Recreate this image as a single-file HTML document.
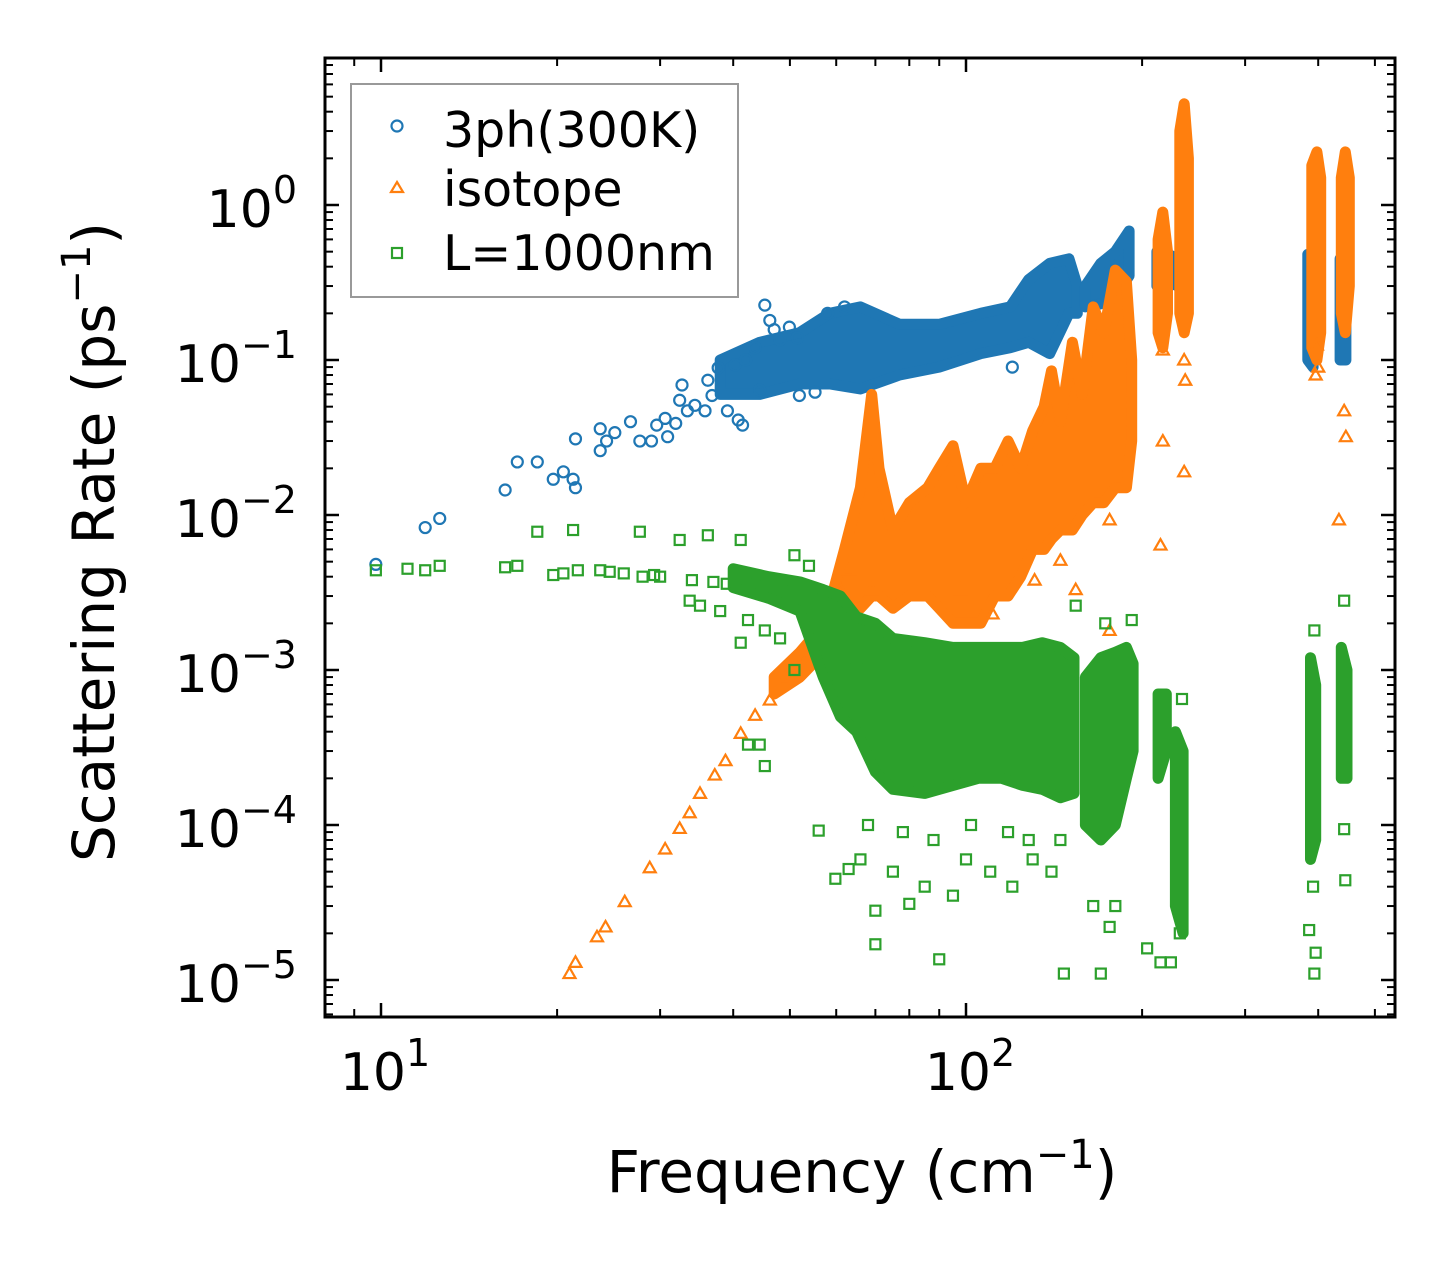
<!DOCTYPE html>
<html><head><meta charset="utf-8">
<style>
html,body{margin:0;padding:0;background:#fff;}
svg{display:block;font-family:"DejaVu Sans","Liberation Sans",sans-serif;}
</style></head>
<body>
<svg id="chart" width="1455" height="1265" viewBox="0 0 1455 1265" xmlns="http://www.w3.org/2000/svg">
<rect x="0" y="0" width="1455" height="1265" fill="#fff"/>
<defs><clipPath id="plotclip"><rect x="325" y="58" width="1070" height="959"/></clipPath></defs>
<g id="plot" clip-path="url(#plotclip)"></g>
<g id="axes"></g>
<g id="legend">
  <rect x="351" y="84" width="387" height="213" fill="#fff" fill-opacity="0.8" stroke="#999" stroke-width="2"/>
  <circle cx="397" cy="126" r="5.5" fill="none" stroke="#1f77b4" stroke-width="2.2"/>
  <text x="443" y="147" font-size="49">3ph(300K)</text>
  <polygon points="397,182 403,192 391,192" fill="none" stroke="#ff7f0e" stroke-width="2.2"/>
  <text x="443" y="206" font-size="49">isotope</text>
  <rect x="392" y="248" width="10" height="10" fill="none" stroke="#2ca02c" stroke-width="2.2"/>
  <text x="443" y="270" font-size="49">L=1000nm</text>
</g>
<text x="862" y="1192" font-size="58" text-anchor="middle">Frequency (cm<tspan font-size="40" dy="-24">−1</tspan><tspan dy="24">)</tspan></text>
<text transform="translate(114,542) rotate(-90)" font-size="58" text-anchor="middle">Scattering Rate (ps<tspan font-size="40" dy="-24">−1</tspan><tspan dy="24">)</tspan></text>
</svg>
<script>
// ---- data ----
const xTickValues = [10, 100];
const xTickLabels = ["1", "2"];
const yTickValues = [1, 0.1, 0.01, 0.001, 0.0001, 0.00001];
const yTickLabels = ["0", "−1", "−2", "−3", "−4", "−5"];

const phononPoints = [[9.8,0.0048],[11.9,0.0083],[12.6,0.0095],[16.3,0.0145],[17.1,0.022],[18.5,0.022],[19.7,0.017],[20.5,0.019],[21.3,0.017],[21.5,0.015],[21.5,0.031],[23.7,0.036],[23.7,0.026],[24.3,0.030],[25.1,0.034],[26.7,0.040],[27.7,0.030],[29.0,0.030],[29.6,0.038],[30.6,0.042],[30.9,0.032],[31.9,0.039],[32.7,0.069],[32.4,0.055],[33.4,0.047],[34.4,0.051],[35.8,0.047],[36.2,0.074],[36.8,0.059],[37.7,0.089],[39.1,0.047],[40.8,0.041],[41.5,0.038],[40.3,0.093],[42.0,0.10],[43.6,0.12],[45.3,0.226],[46.2,0.18],[47.0,0.157],[48.1,0.135],[49.9,0.163],[51.5,0.139],[44.4,0.064],[51.9,0.059],[55.2,0.062],[58,0.2],[62,0.22],[150,0.08],[140,0.075],[120,0.09]];
const phononBands = [
 [[38,0.06,0.1],[44.4,0.06,0.13],[51.9,0.07,0.15],[58.5,0.07,0.2],[66,0.065,0.22],[77,0.08,0.17],[90,0.09,0.17],[106,0.11,0.2],[119,0.12,0.22],[128,0.13,0.33],[139,0.11,0.42],[150,0.2,0.45],[155,0.2,0.3]],
 [[160,0.22,0.3],[170,0.23,0.42],[180,0.26,0.5],[190,0.35,0.68]],
 [[212,0.3,0.5],[222,0.32,0.48],[230,0.3,0.45]],
 [[384,0.1,0.48],[392,0.09,0.4]],
 [[436,0.1,0.45],[446,0.1,0.4]]
];

const isotopePoints = [[21.0,1.1e-5],[21.5,1.3e-5],[23.4,1.9e-5],[24.2,2.2e-5],[26.1,3.2e-5],[28.8,5.3e-5],[30.6,7e-5],[32.4,9.5e-5],[33.7,1.2e-4],[35.1,1.6e-4],[37.2,2.1e-4],[38.8,2.6e-4],[41.2,3.9e-4],[43.6,5.1e-4],[46.2,6.4e-4],[49.0,8.7e-4],[51.9,1.1e-3],[53.9,1.25e-3],[56,1.6e-3],[58.5,2.1e-3],[61,3.3e-3],[63,4.4e-3],[64,2.4e-3],[69,3.3e-3],[217,0.116],[217,0.030],[215,0.0064],[236,0.10],[236,0.019],[237,0.074],[176,0.0018],[176,0.0093],[154,0.0033],[131,0.0038],[145,0.0051],[434,0.0093],[443,0.047],[446,0.032],[398,0.125],[111,0.0023],[97.8,0.0033],[63,0.0029],[400,0.09],[396,0.08]];
const isotopeBands = [
 [[47,0.0007,0.0009],[52,0.0009,0.0013],[56,0.0012,0.0018],[59,0.0018,0.003],[62,0.0025,0.006],[66,0.0025,0.015],[69,0.003,0.06],[71,0.003,0.02],[75,0.0025,0.008],[80,0.003,0.012],[86,0.003,0.015],[90,0.0025,0.02],[95,0.002,0.028],[100,0.002,0.012],[106,0.002,0.02],[112,0.003,0.02],[118,0.003,0.03],[124,0.004,0.02],[130,0.006,0.035],[136,0.006,0.05],[140,0.007,0.085],[145,0.008,0.04],[152,0.008,0.13],[158,0.01,0.06],[165,0.012,0.22],[172,0.012,0.15],[180,0.015,0.38],[188,0.015,0.32],[192,0.03,0.1]],
 [[213,0.15,0.6],[217,0.12,0.9],[221,0.2,0.5]],
 [[232,0.2,3],[236,0.15,4.5],[240,0.2,2]],
 [[390,0.12,1.8],[398,0.1,2.2],[404,0.15,1.5]],
 [[438,0.2,1.5],[445,0.15,2.2],[452,0.3,1.5]]
];

const boundaryPoints = [[9.8,0.0044],[11.1,0.0045],[11.9,0.0044],[12.6,0.0047],[16.3,0.0046],[17.1,0.0047],[18.5,0.0078],[19.7,0.0041],[20.5,0.0042],[21.3,0.0080],[21.7,0.0044],[23.7,0.0044],[24.6,0.0043],[27.7,0.0078],[29.3,0.0041],[32.4,0.0069],[36.2,0.0074],[41.2,0.0069],[33.7,0.0028],[35.1,0.0026],[38,0.0024],[41.2,0.0015],[45.3,0.0018],[48.1,0.0016],[50.9,0.0010],[42.4,0.00033],[44.4,0.00033],[45.3,0.00024],[42.4,0.0021],[50.9,0.0055],[53.9,0.0047],[56,0.000092],[59.8,0.000045],[63,0.000052],[70,0.000028],[70,0.000017],[80,0.000031],[90,0.0000136],[147,0.000011],[170,0.000011],[176,0.000022],[204,0.000016],[215,0.000013],[224,0.000013],[386,0.000021],[394,0.000011],[445,0.000044],[443,0.0028],[394,0.0018],[443,0.000094],[234,0.00065],[154,0.0026],[173,0.0020],[192,0.0021],[30,0.004],[34,0.0038],[37,0.0037],[39,0.0036],[26,0.0042],[28,0.004],[66,0.00006],[75,0.00005],[85,0.00004],[100,0.00006],[110,0.00005],[120,0.00004],[130,0.00006],[95,0.000035],[140,0.00005],[165,0.00003],[180,0.00003],[230,0.00003],[232,0.00002],[392,0.00004],[396,0.000015],[60,0.0009],[65,0.0012],[68,0.0001],[78,0.00009],[88,0.00008],[102,0.0001],[118,0.00009],[128,0.00008],[145,0.00008]];
const boundaryBands = [
 [[40,0.0034,0.0045],[46,0.0029,0.004],[52,0.0024,0.0037],[57,0.0009,0.0033],[61,0.0005,0.003],[65,0.0004,0.0022],[70,0.00022,0.002],[75,0.00017,0.0016],[85,0.00016,0.0015],[95,0.00018,0.0014],[105,0.0002,0.0014],[115,0.0002,0.0014],[125,0.00018,0.0014],[135,0.00017,0.0015],[145,0.00015,0.0014],[153,0.00016,0.0012]],
 [[160,0.0001,0.0009],[170,0.00008,0.0012],[180,0.0001,0.0013],[188,0.0002,0.0014],[193,0.0003,0.0011]],
 [[213,0.0002,0.0007],[220,0.0003,0.0007]],
 [[228,0.00003,0.0004],[235,0.00002,0.0003]],
 [[388,0.00006,0.0012],[396,0.00008,0.0008]],
 [[438,0.0002,0.0014],[448,0.0002,0.001]]
];

// ---- scales ----
const X0 = 381, XDEC = 585, Y0 = 205, YDEC = 155;
function xs(v){ return X0 + (Math.log10(v) - 1) * XDEC; }
function ys(v){ return Y0 - Math.log10(v) * YDEC; }
const NS = "http://www.w3.org/2000/svg";
const plot = document.getElementById('plot');
const axes = document.getElementById('axes');
function mk(tag, attrs, parent){ const e = document.createElementNS(NS, tag); for (const k in attrs) e.setAttribute(k, attrs[k]); parent.appendChild(e); return e; }

function drawBands(bands, color, name){
  bands.forEach(function(b){
    const top = b.map(function(p){ return xs(p[0]).toFixed(1)+','+ys(p[2]).toFixed(1); });
    const bot = b.slice().reverse().map(function(p){ return xs(p[0]).toFixed(1)+','+ys(p[1]).toFixed(1); });
    const poly = mk('polygon', {points: top.concat(bot).join(' '), fill: color, stroke: color, 'stroke-width': 11, 'stroke-linejoin': 'round'}, plot);
    
    
  });
}
function drawCircles(pts, color){
  pts.forEach(function(p){
    const c = mk('circle', {cx: xs(p[0]), cy: ys(p[1]), r: 5.5, fill: 'none', stroke: color, 'stroke-width': 2.2}, plot);
    
    
  });
}
function drawTriangles(pts, color){
  pts.forEach(function(p){
    const x = xs(p[0]), y = ys(p[1]);
    const t = mk('polygon', {points: x+','+(y-6)+' '+(x+6)+','+(y+4.5)+' '+(x-6)+','+(y+4.5), fill: 'none', stroke: color, 'stroke-width': 2.2}, plot);
    
    
  });
}
function drawSquares(pts, color){
  pts.forEach(function(p){
    const s = mk('rect', {x: xs(p[0])-5, y: ys(p[1])-5, width: 10, height: 10, fill: 'none', stroke: color, 'stroke-width': 2.2}, plot);
    
    
  });
}
drawBands(phononBands, '#1f77b4', 'phonon-dense-band');
drawCircles(phononPoints, '#1f77b4');
drawBands(isotopeBands, '#ff7f0e', 'isotope-dense-band');
drawTriangles(isotopePoints, '#ff7f0e');
drawBands(boundaryBands, '#2ca02c', 'boundary-dense-band');
drawSquares(boundaryPoints, '#2ca02c');

// ---- axes ----
const L = 325, R = 1395, T = 58, B = 1017;
function tick(x1,y1,x2,y2,w){ const t = mk('line', {x1:x1,y1:y1,x2:x2,y2:y2,stroke:'#000','stroke-width':w}, axes);   }
for (let d = 0; d <= 3; d++){
  for (let m = 1; m <= 9; m++){
    const v = m * Math.pow(10, d);
    const x = xs(v);
    if (x < L || x > R) continue;
    const len = (m === 1) ? 14 : 8;
    const w = (m === 1) ? 2.5 : 2;
    tick(x, B, x, B-len, w); tick(x, T, x, T+len, w);
  }
}
for (let e = -6; e <= 1; e++){
  for (let m = 1; m <= 9; m++){
    const v = m * Math.pow(10, e);
    const y = ys(v);
    if (y < T || y > B) continue;
    const len = (m === 1) ? 14 : 8;
    const w = (m === 1) ? 2.5 : 2;
    tick(L, y, L+len, y, w); tick(R, y, R-len, y, w);
  }
}
xTickValues.forEach(function(v, i){
  const t = mk('text', {x: xs(v)+4, y: 1090, 'font-size': 52, 'text-anchor': 'middle'}, axes);
  
  
  t.innerHTML = '10<tspan font-size="38" dy="-24">' + xTickLabels[i] + '</tspan>';
});
yTickValues.forEach(function(v, i){
  const t = mk('text', {x: 297, y: ys(v)+22, 'font-size': 52, 'text-anchor': 'end'}, axes);
  
  
  t.innerHTML = '10<tspan font-size="38" dy="-24">' + yTickLabels[i] + '</tspan>';
});
const frame = mk('rect', {x: L, y: T, width: R-L, height: B-T, fill: 'none', stroke: '#000', 'stroke-width': 3}, axes);


</script>
</body></html>
